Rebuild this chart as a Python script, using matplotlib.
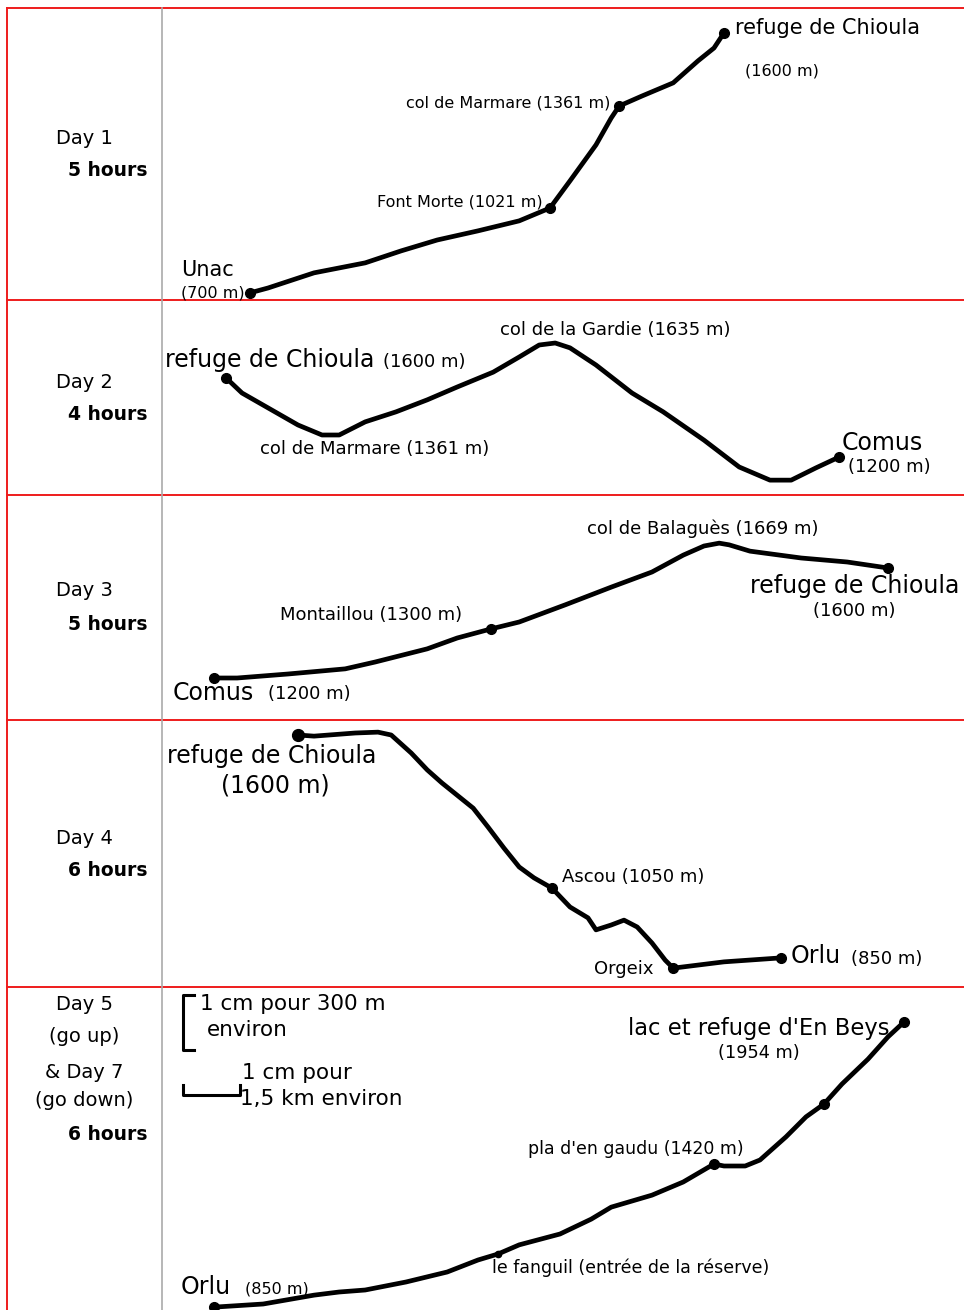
import matplotlib.pyplot as plt

# profiles: distance (km) / altitude (m)
day1_km = [2.20, 2.65, 3.80, 5.08, 5.98, 6.88, 7.90, 8.93, 9.70, 10.20, 10.85,
           11.23, 11.43, 12.00, 12.78, 13.40, 13.80, 14.05]
day1_alt = [705, 722, 775, 810, 852, 890, 922, 957, 1002, 1097, 1223,
            1317, 1359, 1394, 1440, 1517, 1562, 1615]
day1_stops = [0, 8, 12, 17]

day2_km = [1.60, 2.00, 2.65, 3.40, 4.00, 4.43, 5.08, 5.85, 6.63, 7.38, 8.28, 8.93,
           9.43, 9.83, 10.20, 10.85, 11.75, 12.53, 13.55, 14.43, 15.20, 15.73,
           16.35, 16.93]
day2_alt = [1480, 1427, 1375, 1315, 1280, 1280, 1326, 1361, 1403, 1448, 1500, 1553,
            1595, 1602, 1585, 1525, 1427, 1361, 1262, 1168, 1122, 1122,
            1165, 1203]
day2_stops = [0, 23]

day3_km = [1.30, 1.88, 3.15, 4.58, 5.33, 6.63, 7.38, 8.23, 8.93, 10.08, 11.23,
           12.25, 13.03, 13.55, 13.93, 14.18, 14.70, 15.98, 17.13, 18.15]
day3_alt = [1202, 1202, 1216, 1234, 1258, 1304, 1342, 1374, 1398, 1458, 1520,
            1573, 1632, 1664, 1674, 1668, 1646, 1622, 1608, 1587]
day3_stops = [0, 7, 19]

day4_km = [3.40, 3.80, 4.83, 5.40, 5.73, 6.23, 6.63, 7.00, 7.78, 8.15, 8.55, 8.93,
           9.30, 9.75, 10.20, 10.65, 10.85, 11.23, 11.55, 11.88, 12.25, 12.58,
           12.78, 14.05, 15.48]
day4_alt = [1632, 1628, 1639, 1642, 1632, 1569, 1510, 1464, 1376, 1310, 1236, 1170,
            1132, 1096, 1030, 992, 950, 967, 984, 960, 904, 844,
            816, 838, 852]
day4_stops = [13, 22, 24]

day5_km = [1.30, 2.53, 3.80, 4.43, 5.08, 6.10, 7.13, 7.90, 8.40, 8.93, 9.95, 10.73,
           11.23, 12.25, 13.03, 13.80, 14.05, 14.58, 14.95, 15.60, 16.10, 16.55,
           17.00, 17.65, 18.15, 18.55]
day5_alt = [850, 861, 892, 903, 910, 938, 973, 1015, 1036, 1068, 1106, 1158,
            1200, 1242, 1288, 1351, 1344, 1344, 1365, 1446, 1516, 1561,
            1631, 1718, 1796, 1848]
day5_stops = [0, 15, 21, 25]

days = [(day1_km, day1_alt, day1_stops), (day2_km, day2_alt, day2_stops),
        (day3_km, day3_alt, day3_stops), (day4_km, day4_alt, day4_stops),
        (day5_km, day5_alt, day5_stops)]

# row bands in pixels (top, bottom) and altitude at the bottom of each row
rows = [(8, 300), (300, 495), (495, 720), (720, 987), (987, 1310)]
floors = [680, 1070, 1055, 750, 840]
PX_PER_KM = 40.0
M_PER_PX = 3.5
W, H = 964, 1310
LEFT = 162

fig = plt.figure(figsize=(W / 100, H / 100), dpi=100)
bg = fig.add_axes([0, 0, 1, 1])
bg.set_xlim(0, W)
bg.set_ylim(H, 0)
bg.axis('off')

red = '#ee1c1c'
bg.plot([7, W], [8, 8], color=red, lw=1.4)
for top, bottom in rows[:-1]:
    bg.plot([7, W], [bottom, bottom], color=red, lw=1.4)
bg.plot([7, 7], [8, H], color=red, lw=1.4)
bg.plot([LEFT, LEFT], [8, H], color='#aaaaaa', lw=1.2)

for i, (km, alt, stops) in enumerate(days):
    top, bottom = rows[i]
    ax = fig.add_axes([LEFT / W, 1 - bottom / H, (W - LEFT) / W, (bottom - top) / H])
    ax.set_xlim(0, (W - LEFT) / PX_PER_KM)
    ax.set_ylim(floors[i], floors[i] + (bottom - top) * M_PER_PX)
    ax.axis('off')
    ax.patch.set_alpha(0)
    ax.plot(km, alt, color='black', lw=3.4, solid_capstyle='round',
            solid_joinstyle='round')
    ax.plot([km[j] for j in stops], [alt[j] for j in stops], 'o', color='black', ms=7)
    if i == 3:
        ax.plot(km[0], alt[0], 'o', color='black', ms=8.5)
    if i == 4:
        ax.plot(km[8], alt[8], 'o', color='black', ms=4.5)


def txt(x, y, s, size, ha='left', weight='normal'):
    bg.text(x, y, s, fontsize=size, ha=ha, va='center', fontweight=weight,
            color='black')


# left column
day_labels = [(138, 'Day 1', 170, '5 hours'), (382, 'Day 2', 414, '4 hours'),
              (591, 'Day 3', 624, '5 hours'), (838, 'Day 4', 870, '6 hours')]
for y1, d, y2, h in day_labels:
    txt(84, y1, d, 14, ha='center')
    txt(68, y2, h, 13.5, weight='bold')
txt(84, 1004, 'Day 5', 14, ha='center')
txt(84, 1036, '(go up)', 14, ha='center')
txt(84, 1072, '& Day 7', 14, ha='center')
txt(84, 1101, '(go down)', 14, ha='center')
txt(68, 1134, '6 hours', 13.5, weight='bold')

# day 1
txt(735, 28, 'refuge de Chioula', 15)
txt(745, 71, '(1600 m)', 11.5)
txt(610, 103, 'col de Marmare (1361 m)', 11.5, ha='right')
txt(543, 202, 'Font Morte (1021 m)', 11.5, ha='right')
txt(181, 270, 'Unac', 15)
txt(181, 293, '(700 m)', 11.5)

# day 2
txt(165, 360, 'refuge de Chioula', 17)
txt(383, 362, '(1600 m)', 13)
txt(500, 330, 'col de la Gardie (1635 m)', 13)
txt(260, 449, 'col de Marmare (1361 m)', 13)
txt(842, 443, 'Comus', 17)
txt(848, 467, '(1200 m)', 13)

# day 3
txt(587, 529, 'col de Balaguès (1669 m)', 13)
txt(750, 586, 'refuge de Chioula', 17)
txt(813, 611, '(1600 m)', 13)
txt(280, 615, 'Montaillou (1300 m)', 13)
txt(173, 693, 'Comus', 17)
txt(268, 694, '(1200 m)', 13)

# day 4
txt(167, 756, 'refuge de Chioula', 17)
txt(275, 786, '(1600 m)', 17, ha='center')
txt(562, 877, 'Ascou (1050 m)', 13)
txt(594, 969, 'Orgeix', 13)
txt(791, 956, 'Orlu', 17)
txt(851, 959, '(850 m)', 13)

# day 5
txt(890, 1029, "lac et refuge d'En Beys", 16.3, ha='right')
txt(718, 1053, '(1954 m)', 12.8)
txt(528, 1149, "pla d'en gaudu (1420 m)", 12.5)
txt(492, 1268, 'le fanguil (entrée de la réserve)', 12.5)
txt(181, 1287, 'Orlu', 17)
txt(245, 1289, '(850 m)', 11.5)

# scale
bg.plot([194, 183, 183, 194], [995, 995, 1050, 1050], color='black', lw=2.2)
bg.plot([183, 183, 240, 240], [1085, 1095, 1095, 1085], color='black', lw=2.2)
txt(200, 1004, '1 cm pour 300 m', 15.5)
txt(207, 1030, 'environ', 15.5)
txt(242, 1073, '1 cm pour', 15.5)
txt(240, 1099, '1,5 km environ', 15.5)

fig.savefig('out.png', dpi=100)
